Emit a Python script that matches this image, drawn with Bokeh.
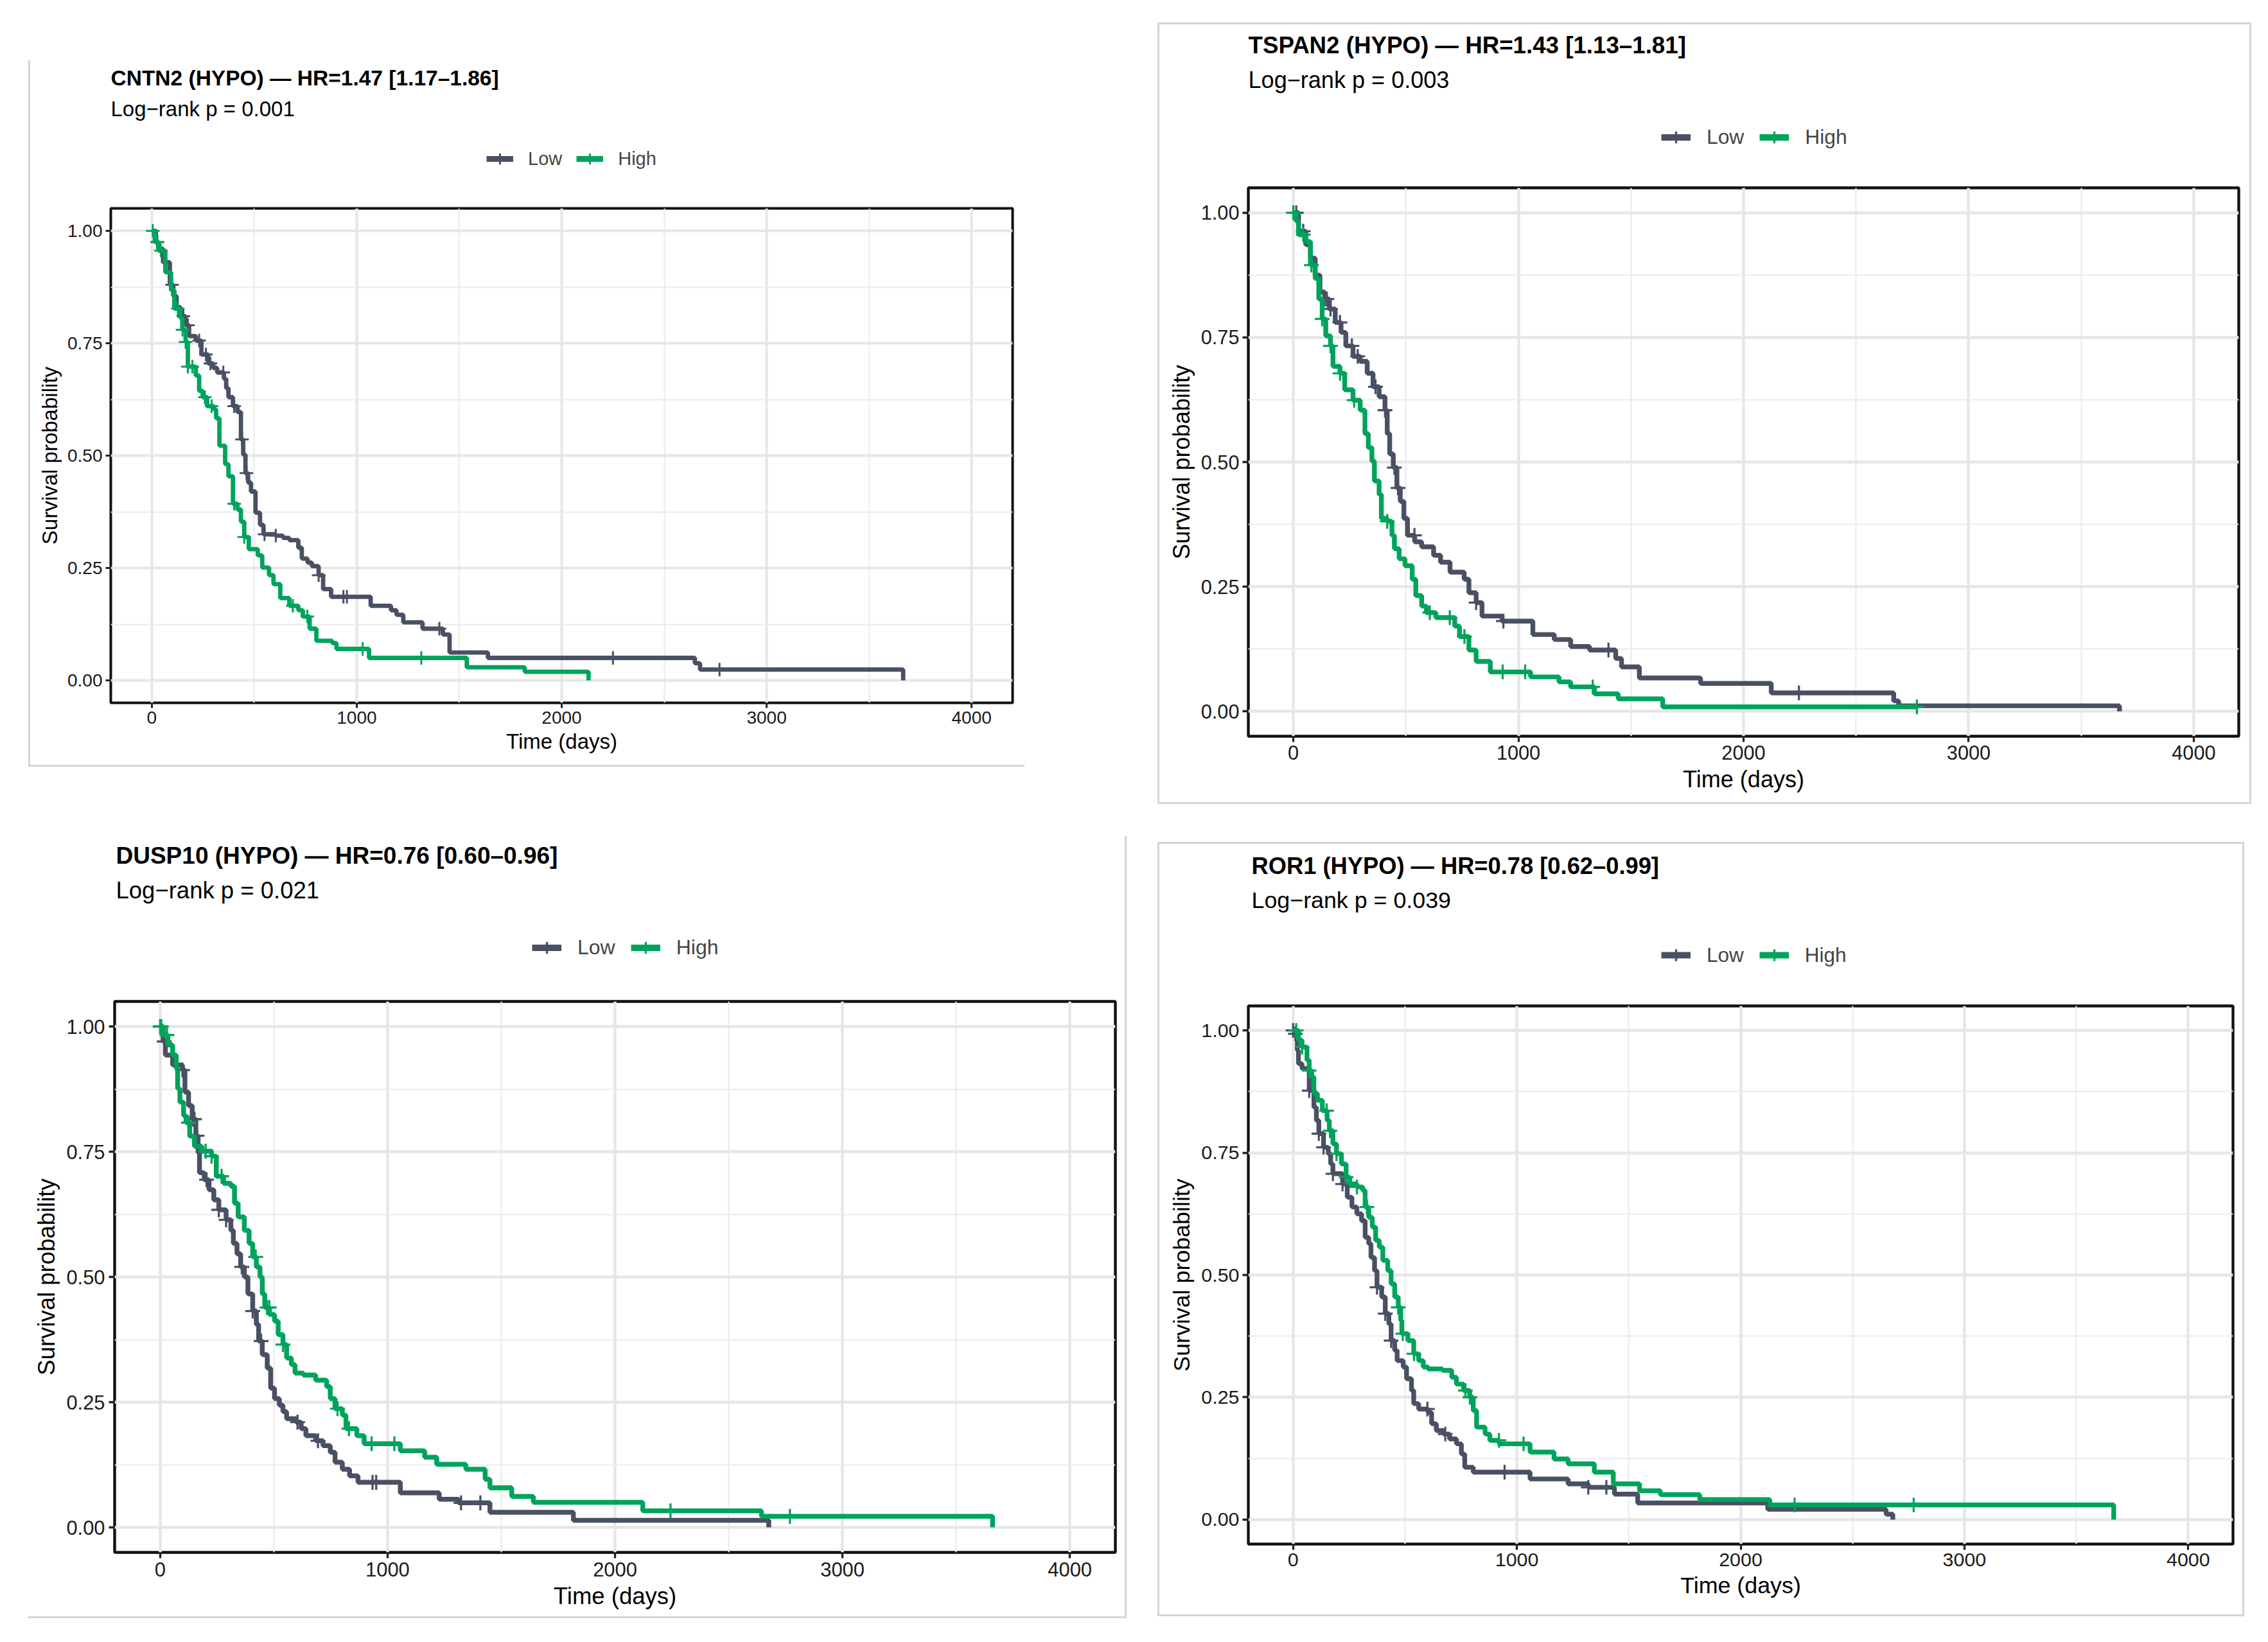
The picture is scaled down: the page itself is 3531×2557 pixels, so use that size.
import numpy as np
from bokeh.plotting import figure
from bokeh.models import (FixedTicker, NumeralTickFormatter, Label, Legend,
                          LegendItem, Spacer, Range1d)
from bokeh.layouts import row, column
from bokeh.embed import file_html
from bokeh.resources import INLINE

LOW_COLOR = "#4A5064"
HIGH_COLOR = "#00A35C"
FONT = "Liberation Sans"

x_ticks = [0, 1000, 2000, 3000, 4000]
x_minor = [500, 1500, 2500, 3500]
y_ticks = [0.0, 0.25, 0.5, 0.75, 1.0]
y_minor = [0.125, 0.375, 0.625, 0.875]
groups = ["Low", "High"]

# ---------------- CNTN2 ----------------
cntn2_title = "CNTN2 (HYPO) \u2014 HR=1.47 [1.17\u20131.86]"
cntn2_sub = "Log\u2212rank p = 0.001"
cntn2_low_t = [0, 20, 33, 55, 88, 105, 121, 140, 165, 182, 215, 242, 275, 300, 319, 352, 363, 374, 396, 418,
               435, 446, 457, 470, 484, 506, 528, 545, 605, 640, 671, 715, 732, 760, 781, 814, 836, 875, 1068,
               1167, 1194, 1227, 1321, 1420, 1453, 1640, 2650, 2675, 3666]
cntn2_low_s = [1.0, 0.975, 0.96, 0.93, 0.88, 0.855, 0.83, 0.81, 0.79, 0.766, 0.756, 0.725, 0.705, 0.695, 0.685,
               0.671, 0.65, 0.63, 0.61, 0.597, 0.536, 0.502, 0.461, 0.44, 0.42, 0.373, 0.346, 0.325, 0.322, 0.317,
               0.312, 0.295, 0.271, 0.262, 0.254, 0.234, 0.203, 0.186, 0.166, 0.156, 0.146, 0.129, 0.115, 0.102,
               0.062, 0.05, 0.038, 0.024, 0.0]
cntn2_low_c = [27, 99, 154, 176, 231, 264, 286, 349, 402, 440, 462, 550, 605, 814, 935, 952, 1403, 2250, 2770]
cntn2_high_t = [0, 15, 33, 66, 94, 110, 138, 149, 165, 176, 215, 231, 248, 270, 303, 314, 330, 358, 374, 396,
                418, 435, 451, 473, 517, 539, 572, 594, 627, 671, 715, 737, 770, 803, 880, 901, 1060, 1537, 1820,
                2131]
cntn2_high_s = [1.0, 0.975, 0.956, 0.908, 0.868, 0.827, 0.807, 0.78, 0.753, 0.698, 0.678, 0.644, 0.63, 0.61,
                0.603, 0.583, 0.522, 0.481, 0.454, 0.393, 0.38, 0.353, 0.319, 0.292, 0.278, 0.251, 0.234, 0.214,
                0.183, 0.166, 0.156, 0.142, 0.115, 0.088, 0.083, 0.07, 0.05, 0.029, 0.019, 0.0]
cntn2_high_c = [5, 27, 44, 127, 150, 165, 176, 198, 259, 292, 402, 451, 688, 759, 1029, 1315]

# ---------------- TSPAN2 ----------------
tspan2_title = "TSPAN2 (HYPO) \u2014 HR=1.43 [1.13\u20131.81]"
tspan2_sub = "Log\u2212rank p = 0.003"
tspan2_low_t = [0, 23, 55, 76, 97, 118, 139, 160, 186, 212, 233, 265, 297, 328, 354, 381, 407, 417, 428, 444,
                460, 475, 491, 507, 539, 570, 623, 654, 696, 759, 780, 812, 838, 927, 1064, 1159, 1232, 1316,
                1432, 1458, 1537, 1809, 2123, 2667, 2689, 3670]
tspan2_low_s = [1.0, 0.963, 0.936, 0.909, 0.875, 0.841, 0.827, 0.807, 0.78, 0.76, 0.733, 0.712, 0.702, 0.678,
                0.651, 0.631, 0.604, 0.557, 0.516, 0.489, 0.448, 0.421, 0.387, 0.353, 0.34, 0.33, 0.313, 0.299,
                0.279, 0.265, 0.238, 0.218, 0.191, 0.181, 0.154, 0.144, 0.13, 0.123, 0.106, 0.089, 0.067, 0.056,
                0.037, 0.021, 0.011, 0.0]
tspan2_low_c = [13, 44, 139, 149, 165, 207, 260, 286, 365, 407, 449, 465, 538, 812, 933, 1400, 2246]
tspan2_high_t = [0, 13, 23, 55, 76, 97, 113, 128, 144, 165, 176, 207, 228, 265, 297, 318, 333, 349, 360, 381,
                 391, 417, 438, 449, 470, 496, 528, 544, 570, 591, 633, 717, 738, 780, 812, 875, 1054, 1180, 1232,
                 1338, 1443, 1641, 2770]
tspan2_high_s = [1.0, 0.983, 0.956, 0.942, 0.895, 0.868, 0.827, 0.787, 0.753, 0.733, 0.692, 0.678, 0.645, 0.624,
                 0.604, 0.557, 0.529, 0.502, 0.462, 0.435, 0.387, 0.381, 0.353, 0.326, 0.306, 0.292, 0.265, 0.232,
                 0.211, 0.198, 0.188, 0.171, 0.15, 0.123, 0.10, 0.079, 0.069, 0.059, 0.049, 0.035, 0.025, 0.009,
                 0.009]
tspan2_high_c = [0, 44, 80, 128, 165, 207, 270, 417, 606, 695, 760, 930, 1030, 1330, 2770]

# ---------------- DUSP10 ----------------
dusp10_title = "DUSP10 (HYPO) \u2014 HR=0.76 [0.60\u20130.96]"
dusp10_sub = "Log\u2212rank p = 0.021"
dusp10_low_t = [0, 13, 23, 55, 98, 109, 125, 141, 157, 167, 173, 194, 215, 236, 258, 290, 311, 322, 338, 354,
                370, 386, 407, 423, 433, 449, 471, 486, 503, 524, 540, 556, 598, 620, 641, 684, 716, 748, 769,
                801, 833, 870, 1056, 1227, 1312, 1450, 1817, 2676]
dusp10_low_s = [1.0, 0.97, 0.943, 0.923, 0.913, 0.869, 0.842, 0.815, 0.782, 0.748, 0.708, 0.694, 0.674, 0.654,
                0.634, 0.614, 0.593, 0.567, 0.546, 0.52, 0.5, 0.466, 0.432, 0.405, 0.372, 0.345, 0.318, 0.278,
                0.257, 0.244, 0.231, 0.217, 0.21, 0.197, 0.183, 0.173, 0.163, 0.15, 0.13, 0.116, 0.103, 0.09,
                0.069, 0.056, 0.049, 0.03, 0.014, 0.0]
dusp10_low_c = [18, 98, 141, 151, 162, 204, 258, 290, 359, 407, 444, 604, 694, 934, 950, 1323, 1408]
dusp10_high_t = [0, 13, 34, 55, 71, 77, 87, 103, 114, 130, 151, 183, 226, 247, 279, 311, 327, 343, 370, 391,
                 407, 423, 439, 449, 460, 481, 503, 519, 540, 556, 577, 593, 630, 684, 732, 748, 769, 801, 817,
                 865, 897, 1056, 1163, 1216, 1344, 1429, 1450, 1546, 1641, 2122, 2644, 3660]
dusp10_high_s = [1.0, 0.983, 0.963, 0.943, 0.916, 0.876, 0.849, 0.822, 0.808, 0.781, 0.761, 0.751, 0.741, 0.701,
                 0.687, 0.681, 0.647, 0.62, 0.593, 0.567, 0.54, 0.52, 0.5, 0.466, 0.439, 0.425, 0.412, 0.385,
                 0.365, 0.338, 0.325, 0.308, 0.304, 0.294, 0.281, 0.257, 0.237, 0.224, 0.197, 0.183, 0.167, 0.153,
                 0.14, 0.126, 0.116, 0.096, 0.079, 0.062, 0.05, 0.033, 0.022, 0.0]
dusp10_high_c = [0, 5, 30, 125, 200, 226, 270, 420, 470, 480, 540, 780, 830, 930, 1030, 2244, 2769]

# ---------------- ROR1 ----------------
ror1_title = "ROR1 (HYPO) \u2014 HR=0.78 [0.62\u20130.99]"
ror1_sub = "Log\u2212rank p = 0.039"
ror1_low_t = [0, 8, 19, 24, 40, 72, 93, 104, 115, 136, 157, 168, 178, 221, 242, 263, 285, 306, 322, 338, 348,
              364, 375, 396, 412, 428, 438, 454, 465, 492, 507, 529, 539, 561, 603, 619, 640, 672, 699, 730, 752,
              767, 805, 1059, 1229, 1319, 1436, 1540, 2121, 2650, 2680]
ror1_low_s = [1.0, 0.993, 0.959, 0.932, 0.922, 0.877, 0.843, 0.816, 0.789, 0.761, 0.748, 0.727, 0.707, 0.686,
              0.659, 0.639, 0.625, 0.611, 0.577, 0.564, 0.536, 0.509, 0.475, 0.455, 0.421, 0.4, 0.366, 0.346,
              0.325, 0.312, 0.288, 0.264, 0.237, 0.226, 0.219, 0.196, 0.182, 0.175, 0.165, 0.155, 0.134, 0.107,
              0.097, 0.083, 0.073, 0.066, 0.052, 0.034, 0.021, 0.011, 0.0]
ror1_low_c = [0, 10, 72, 115, 136, 178, 221, 375, 412, 438, 600, 680, 945, 1319, 1400]
ror1_high_t = [0, 24, 40, 62, 72, 83, 93, 109, 131, 152, 162, 178, 194, 216, 237, 253, 285, 311, 322, 338, 354,
               369, 385, 401, 423, 438, 454, 470, 481, 486, 513, 539, 561, 582, 603, 667, 709, 730, 762, 789, 805,
               820, 858, 879, 921, 1059, 1166, 1229, 1346, 1431, 1548, 1641, 1817, 2130, 3667]
ror1_high_s = [1.0, 0.98, 0.966, 0.939, 0.918, 0.905, 0.871, 0.857, 0.836, 0.816, 0.795, 0.768, 0.748, 0.727,
               0.70, 0.686, 0.68, 0.673, 0.639, 0.618, 0.598, 0.571, 0.557, 0.53, 0.509, 0.482, 0.455, 0.434,
               0.407, 0.38, 0.366, 0.339, 0.325, 0.312, 0.308, 0.305, 0.291, 0.277, 0.264, 0.25, 0.223, 0.189,
               0.175, 0.162, 0.155, 0.138, 0.124, 0.114, 0.097, 0.073, 0.059, 0.051, 0.041, 0.03, 0.0]
ror1_high_c = [14, 40, 72, 150, 165, 194, 237, 285, 330, 470, 490, 540, 770, 790, 920, 1030, 2241, 2773]


def surv_at(times, surv, ct):
    idx = np.searchsorted(np.asarray(times), np.asarray(ct), side="right") - 1
    return np.asarray(surv)[idx]


GAP = 20      # space between header figure and plot frame
LW = 6.8      # curve width
KEY_LW = 9.0  # legend key bar width
CROSS = 21
CROSS_W = 3.0


def make_panel(cfg):
    k = cfg["k"]
    W = cfg["ml"] + cfg["fw"] + cfg["mr"]
    HH = cfg["mt"] - GAP
    H = GAP + cfg["fh"] + cfg["mb"]

    # ---------- header (title, subtitle, legend); frame aligns with plot frame ----------
    h = figure(width=W, height=HH, x_range=Range1d(-9e5, -8e5), y_range=Range1d(-9e5, -8e5),
               x_axis_location=None, y_axis_location=None, min_border=0,
               output_backend="svg", toolbar_location=None, styles=cfg["hstyles"])
    h.title.text = ""
    h.outline_line_color = None
    h.background_fill_color = "white"
    h.border_fill_color = "white"
    h.xgrid.visible = False
    h.ygrid.visible = False
    h.add_layout(Label(x=cfg["tx"], y=cfg["Tc"] - GAP, x_units="screen", y_units="screen",
                       text=cfg["title"], text_font=FONT, text_font_size="%.1fpx" % (33.5 * k),
                       text_font_style="bold", text_baseline="middle", text_color="black"))
    h.add_layout(Label(x=cfg["tx"], y=cfg["Sc"] - GAP, x_units="screen", y_units="screen",
                       text=cfg["sub"], text_font=FONT, text_font_size="%.1fpx" % (33 * k),
                       text_baseline="middle", text_color="black"))

    # ---------- survival plot ----------
    p = figure(width=W, height=H, x_range=Range1d(-200, 4200), y_range=Range1d(-0.05, 1.05),
               min_border_left=cfg["ml"], min_border_right=cfg["mr"], min_border_top=GAP,
               min_border_bottom=cfg["mb"], output_backend="svg", toolbar_location=None,
               background_fill_color="white", border_fill_color="white", styles=cfg["pstyles"])
    p.title.text = ""
    p.outline_line_color = "#111111"
    p.outline_line_width = 4 * k

    p.xaxis.ticker = FixedTicker(ticks=x_ticks, minor_ticks=x_minor)
    p.yaxis.ticker = FixedTicker(ticks=y_ticks, minor_ticks=y_minor)
    p.yaxis.formatter = NumeralTickFormatter(format="0.00")
    for ax in (p.xaxis[0], p.yaxis[0]):
        ax.axis_line_color = None
        ax.major_tick_line_color = "#222222"
        ax.major_tick_line_width = 3 * k
        ax.major_tick_out = int(round(8 * k))
        ax.major_tick_in = 0
        ax.minor_tick_line_color = None
        ax.major_label_text_font = FONT
        ax.major_label_text_font_size = "%.1fpx" % (28 * k)
        ax.major_label_text_color = "#1A1A1A"
        ax.major_label_standoff = int(round(5 * k))
        ax.axis_label_text_font = FONT
        ax.axis_label_text_font_size = "%.1fpx" % (33 * k)
        ax.axis_label_text_font_style = "normal"
        ax.axis_label_text_color = "black"
        ax.axis_label_standoff = int(round(6 * k))
    p.xaxis.axis_label = "Time (days)"
    p.yaxis.axis_label = "Survival probability"

    for g in (p.xgrid[0], p.ygrid[0]):
        g.grid_line_color = "#E6E6E6"
        g.grid_line_width = 4 * k
        g.minor_grid_line_color = "#EBEBEB"
        g.minor_grid_line_width = 2 * k

    items = []
    for name, t, s, c, col in [("Low", cfg["low_t"], cfg["low_s"], cfg["low_c"], LOW_COLOR),
                               ("High", cfg["high_t"], cfg["high_s"], cfg["high_c"], HIGH_COLOR)]:
        cy = surv_at(t, s, c)
        p.step(x=t, y=s, mode="after", line_color=col, line_width=LW * k)
        p.scatter(x=c, y=cy, marker="cross", size=CROSS * k, line_color=col, line_width=CROSS_W * k)
        # legend keys: same data in the header figure, whose ranges keep them out of view
        kl = h.step(x=t, y=s, mode="after", line_color=col, line_width=KEY_LW * k)
        kc = h.scatter(x=c, y=cy, marker="cross", size=CROSS * k, line_color=col, line_width=CROSS_W * k)
        items.append(LegendItem(label=name, renderers=[kl, kc]))

    lh = int(round(50 * k))
    legend = Legend(items=items, location=(cfg["lx"], cfg["Lc"] - GAP - lh / 2),
                    orientation="horizontal", glyph_width=int(round(42 * k)), glyph_height=lh,
                    label_height=lh, label_standoff=int(round(23 * k)), spacing=int(round(22 * k)),
                    padding=0, margin=0, border_line_color=None, background_fill_alpha=0,
                    label_text_font=FONT, label_text_font_size="%.1fpx" % (29 * k),
                    label_text_baseline="middle")
    h.add_layout(legend)
    return column(h, p)


B = "3px solid #D4D4D4"
panels = [
    dict(k=1.0, ml=125, fw=1404, mr=22, mt=230, fh=770, mb=100,
         hstyles={"border-left": B, "box-sizing": "border-box"},
         pstyles={"border-left": B, "border-bottom": B, "box-sizing": "border-box"},
         title=cntn2_title, sub=cntn2_sub, tx=0, Tc=203, Sc=155, Lc=77, lx=585,
         low_t=cntn2_low_t, low_s=cntn2_low_s, low_c=cntn2_low_c,
         high_t=cntn2_high_t, high_s=cntn2_high_s, high_c=cntn2_high_c),
    dict(k=1.095, ml=138, fw=1542, mr=23, mt=257, fh=854, mb=106,
         hstyles={"border-left": B, "border-right": B, "border-top": B, "box-sizing": "border-box"},
         pstyles={"border-left": B, "border-right": B, "border-bottom": B, "box-sizing": "border-box"},
         title=tspan2_title, sub=tspan2_sub, tx=0, Tc=225, Sc=171, Lc=82, lx=643,
         low_t=tspan2_low_t, low_s=tspan2_low_s, low_c=tspan2_low_c,
         high_t=tspan2_high_t, high_s=tspan2_high_s, high_c=tspan2_high_c),
    dict(k=1.105, ml=134, fw=1558, mr=18, mt=257, fh=858, mb=103,
         hstyles={"border-right": B, "box-sizing": "border-box"},
         pstyles={"border-right": B, "border-bottom": B, "box-sizing": "border-box"},
         title=dusp10_title, sub=dusp10_sub, tx=2, Tc=227, Sc=173, Lc=84, lx=650,
         low_t=dusp10_low_t, low_s=dusp10_low_s, low_c=dusp10_low_c,
         high_t=dusp10_high_t, high_s=dusp10_high_s, high_c=dusp10_high_c),
    dict(k=1.085, ml=138, fw=1533, mr=21, mt=255, fh=838, mb=113,
         hstyles={"border-left": B, "border-right": B, "border-top": B, "box-sizing": "border-box"},
         pstyles={"border-left": B, "border-right": B, "border-bottom": B, "box-sizing": "border-box"},
         title=ror1_title, sub=ror1_sub, tx=5, Tc=221, Sc=168, Lc=82, lx=643,
         low_t=ror1_low_t, low_s=ror1_low_s, low_c=ror1_low_c,
         high_t=ror1_high_t, high_s=ror1_high_s, high_c=ror1_high_c),
]

c1, c2, c3, c4 = [make_panel(c) for c in panels]

layout = column(
    row(Spacer(width=44, height=1), column(Spacer(width=1, height=94), c1),
        Spacer(width=207, height=1), column(Spacer(width=1, height=35), c2)),
    row(Spacer(width=44, height=1), column(Spacer(width=1, height=50), c3),
        Spacer(width=48, height=1), column(Spacer(width=1, height=59), c4)),
)

open("out.html", "w").write(file_html(layout, INLINE))
